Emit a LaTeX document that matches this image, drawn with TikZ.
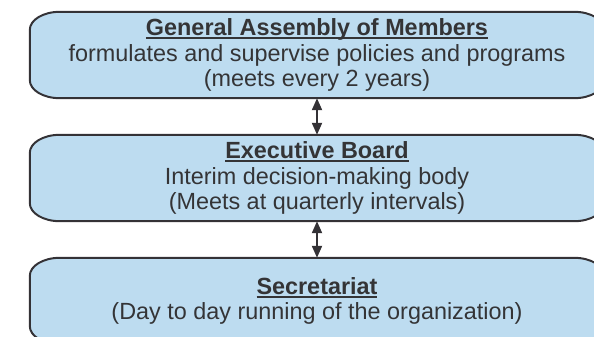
\documentclass[tikz,border=0pt]{standalone}
\usepackage{fontspec}
\setmainfont{Liberation Sans}
\usetikzlibrary{positioning,arrows.meta,backgrounds}
\definecolor{boxfill}{RGB}{189,220,240}
\definecolor{boxedge}{RGB}{52,50,54}
\definecolor{boxtext}{RGB}{52,52,54}

% bold heading with the rule just under the baseline
\newcommand{\headline}[1]{\textbf{\setbox0\hbox{#1}\rlap{\rule[-3.5pt]{\wd0}{1.8pt}}\box0}}
% frame with oval corners round a node
\newcommand{\ovalframe}[1]{%
  \draw[orgframe] ([xshift=30pt]#1.north west) -- ([xshift=-30pt]#1.north east)
    arc[start angle=90,end angle=0,x radius=30pt,y radius=18pt] -- ([yshift=18pt]#1.south east)
    arc[start angle=0,end angle=-90,x radius=30pt,y radius=18pt] -- ([xshift=30pt]#1.south west)
    arc[start angle=270,end angle=180,x radius=30pt,y radius=18pt] -- ([yshift=-18pt]#1.north west)
    arc[start angle=180,end angle=90,x radius=30pt,y radius=18pt] -- cycle;}

\begin{document}
\begin{tikzpicture}[>={Triangle[width=10pt,length=12pt]}, node distance=123pt, on grid,
  every node/.style={font=\fontsize{23.4}{25.5}\selectfont, text=boxtext},
  organ/.style={minimum width=574pt, minimum height=86pt, inner sep=0pt, align=center},
  orgframe/.style={fill=boxfill, draw=boxedge, line width=2pt},
  twoway/.style={<->, draw=boxedge, line width=2pt}]
  \useasboundingbox (0,0) rectangle (594pt,-337pt);
  \clip (0,0) rectangle (594pt,-337pt);

  \node[organ] (gam) at (317pt,-55pt) {\headline{General Assembly of Members}\\
    formulates and supervise policies and programs\\ (meets every 2 years)};
  \node[organ] (exec) [below=of gam] {\headline{Executive Board}\\
    Interim decision-making body\\ (Meets at quarterly intervals)};
  \node[organ] (sec) [below=of exec] {\headline{Secretariat}\\
    (Day to day running of the organization)};

  \begin{scope}[on background layer]
    \ovalframe{gam}
    \ovalframe{exec}
    \ovalframe{sec}
  \end{scope}

  \draw[twoway] (gam) -- (exec);
  \draw[twoway] (exec) -- (sec);
\end{tikzpicture}
\end{document}
